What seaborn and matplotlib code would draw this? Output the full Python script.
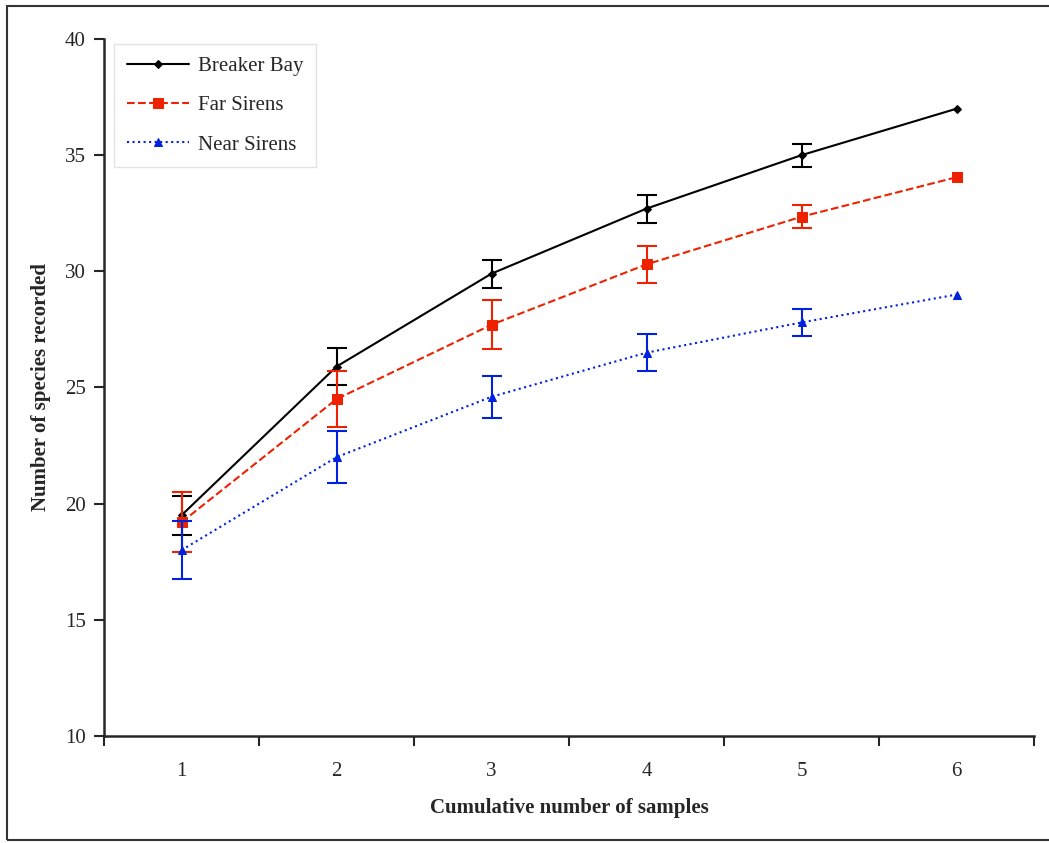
import matplotlib
matplotlib.use("Agg")
import matplotlib.pyplot as plt
import seaborn as sns
from matplotlib.patches import Rectangle

sns.set_style("ticks")
plt.rcParams['font.family'] = ['Liberation Serif', 'DejaVu Serif']

# Data
samples = [1, 2, 3, 4, 5, 6]
breaker_bay = [19.5, 25.9, 29.9, 32.7, 35.0, 37.0]
breaker_err = [0.85, 0.8, 0.6, 0.6, 0.5, 0.0]
far_sirens = [19.2, 24.5, 27.7, 30.3, 32.35, 34.05]
far_err = [1.3, 1.2, 1.05, 0.8, 0.5, 0.0]
near_sirens = [18.0, 22.0, 24.6, 26.5, 27.8, 29.0]
near_err = [1.25, 1.12, 0.9, 0.8, 0.6, 0.0]

fig = plt.figure(figsize=(10.49, 8.43), dpi=100)
ax = fig.add_axes([104 / 1049, 107 / 843, 930 / 1049, 697 / 843])

# figure frame
fig.patches.append(Rectangle((7 / 1049, 3 / 843), 1.1, 834 / 843, transform=fig.transFigure,
                             fill=False, edgecolor='#333333', lw=1.5))

series = [
    ("Breaker Bay", breaker_bay, breaker_err, 'black', '-', 'D', 4),
    ("Far Sirens", far_sirens, far_err, '#ee2200', '--', 's', 7),
    ("Near Sirens", near_sirens, near_err, '#0022dd', ':', '^', 6),
]

for name, vals, errs, col, ls, mk, ms in series:
    sns.lineplot(x=samples, y=vals, ax=ax, color=col, linestyle=ls, marker=mk,
                 markersize=ms, markeredgecolor=col, linewidth=1.5, label=name)
    ax.errorbar(samples[:-1], vals[:-1], yerr=errs[:-1], fmt='none', ecolor=col,
                elinewidth=1.5, capsize=7, capthick=1.5)

ax.set_xlim(0.5, 6.5)
ax.set_ylim(10, 40)
ax.set_yticks([10, 15, 20, 25, 30, 35, 40])
ax.set_xticks(samples)
ax.set_xticks([0.5, 1.5, 2.5, 3.5, 4.5, 5.5, 6.5], minor=True)
ax.tick_params(axis='x', which='major', length=0, pad=19, labelsize=15)
ax.tick_params(axis='x', which='minor', length=7, width=1.5, direction='out')
ax.tick_params(axis='y', length=7, width=1.5, direction='out', labelsize=15, pad=6)

for s in ['top', 'right']:
    ax.spines[s].set_visible(False)
for s in ['left', 'bottom']:
    ax.spines[s].set_linewidth(1.8)

ax.set_xlabel('Cumulative number of samples', fontsize=15, fontweight='bold', labelpad=12)
ax.set_ylabel('Number of species recorded', fontsize=15, fontweight='bold', labelpad=10)

leg = ax.legend(loc='upper left', bbox_to_anchor=(0.0, 1.008), fontsize=15,
                frameon=True, fancybox=False, edgecolor='#dddddd', borderpad=0.6,
                labelspacing=0.95, handlelength=3.0, handletextpad=0.4)
leg.get_frame().set_linewidth(1.0)

fig.savefig('out.png', dpi=100)
